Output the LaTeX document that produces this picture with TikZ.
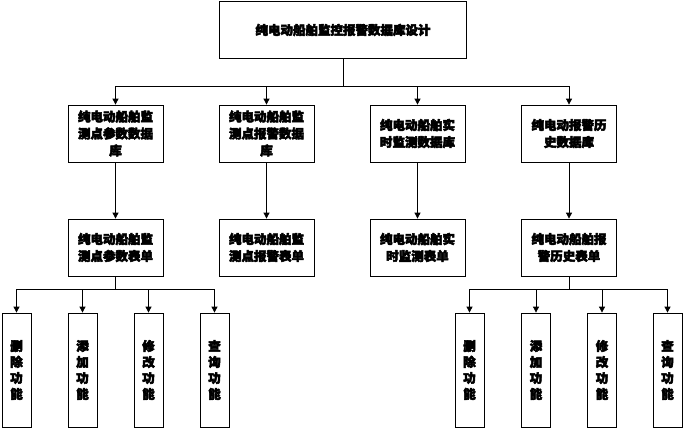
\documentclass[tikz,border=0pt]{standalone}
\usepackage{fontspec}
\newfontfamily\cjk{Noto Sans CJK SC}[FakeBold=4]
\usepackage{tikz}
\usetikzlibrary{arrows.meta,positioning}
\tikzset{
myTitle/.style={
	rectangle,draw,line width=0.8pt,
	minimum width=247pt,minimum height=57pt,
	inner sep=0pt,font=\cjk\bfseries\fontsize{12.5}{17}\selectfont
}
, myBox/.style={
	rectangle,draw,line width=0.8pt,align=center,
	minimum width=95pt,minimum height=57pt,
	inner sep=0pt,font=\cjk\bfseries\fontsize{12.5}{17}\selectfont
}
, myFunc/.style={
	rectangle,draw,line width=0.8pt,align=center,
	minimum width=29pt,minimum height=114pt,
	inner sep=0pt,font=\cjk\bfseries\fontsize{12.5}{16}\selectfont
}
% link
, myLine/.style={line width=0.8pt}
, myLink/.style={-{Triangle[width=6pt,length=6pt]},line width=0.8pt}
}

\begin{document}
\begin{tikzpicture}[x=1pt,y=-1pt]
	\useasboundingbox (0,0) rectangle (684,429);
	% nodes
	\node[myTitle] (Top) at (343,30) {纯电动船舶监控报警数据库设计};
	\node[myBox] (DbA) at (115.5,133.5) {纯电动船舶监\\测点参数数据\\库};
	\node[myBox] (DbB) at (266.5,133.5) {纯电动船舶监\\测点报警数据\\库};
	\node[myBox] (DbC) at (417.5,133.5) {纯电动船舶实\\时监测数据库};
	\node[myBox] (DbD) at (569,133.5) {纯电动报警历\\史数据库};
	% forms
	\node[myBox] (FormA) at (115.5,247.5) {纯电动船舶监\\测点参数表单};
	\node[myBox] (FormB) at (266.5,247.5) {纯电动船舶监\\测点报警表单};
	\node[myBox] (FormC) at (417.5,247.5) {纯电动船舶实\\时监测表单};
	\node[myBox] (FormD) at (569,247.5) {纯电动船舶报\\警历史表单};
	% functions
	\node[myFunc] (DelA) at (16.5,370) {删\\除\\功\\能};
	\node[myFunc] (AddA) at (82.5,370) {添\\加\\功\\能};
	\node[myFunc] (ModA) at (148.5,370) {修\\改\\功\\能};
	\node[myFunc] (QryA) at (214.5,370) {查\\询\\功\\能};
	\node[myFunc] (DelD) at (469.5,370) {删\\除\\功\\能};
	\node[myFunc] (AddD) at (536,370) {添\\加\\功\\能};
	\node[myFunc] (ModD) at (602,370) {修\\改\\功\\能};
	\node[myFunc] (QryD) at (667.5,370) {查\\询\\功\\能};
	% bus points
	\coordinate (BusTop) at (343,86);
	\coordinate (BusA) at (115.5,289);
	\coordinate (BusD) at (569,289);
	% links
	\draw[myLine] (Top.south) -- (BusTop);
	\foreach \n in {DbA,DbB,DbC,DbD}
		\draw[myLink] (BusTop) -| (\n.north);
	\draw[myLink] (DbA) -- (FormA);
	\draw[myLink] (DbB) -- (FormB);
	\draw[myLink] (DbC) -- (FormC);
	\draw[myLink] (DbD) -- (FormD);
	\draw[myLine] (FormA.south) -- (BusA);
	\draw[myLine] (FormD.south) -- (BusD);
	\foreach \n in {DelA,AddA,ModA,QryA}
		\draw[myLink] (BusA) -| (\n.north);
	\foreach \n in {DelD,AddD,ModD,QryD}
		\draw[myLink] (BusD) -| (\n.north);
\end{tikzpicture}
\end{document}
